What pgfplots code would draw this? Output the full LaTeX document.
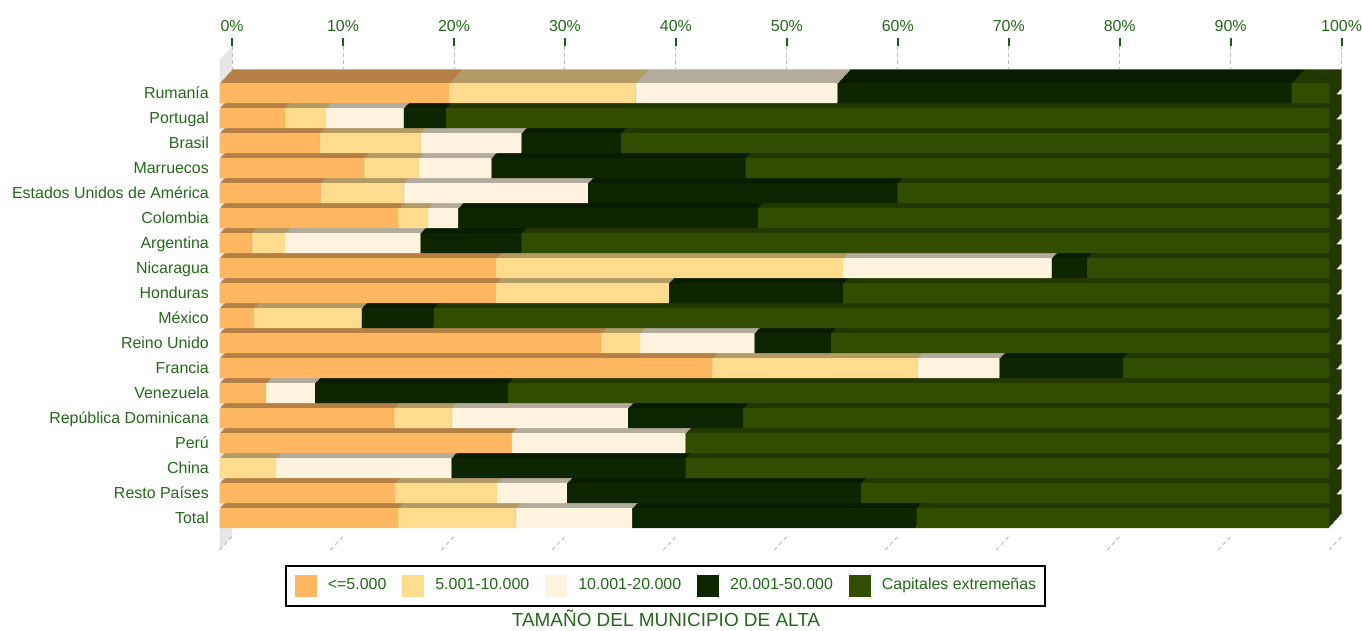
\documentclass[border=0pt]{standalone}
\usepackage{fontspec}
\setmainfont{Liberation Sans}
\usepackage{pgfplots}
\usepackage{pgfplotstable}
\pgfplotsset{compat=1.18}
\definecolor{txt}{RGB}{35,105,25}
\definecolor{tickg}{RGB}{20,95,20}
\definecolor{cA}{HTML}{FDB760}
\definecolor{cB}{HTML}{FEDC8E}
\definecolor{cC}{HTML}{FEF3DE}
\definecolor{cD}{HTML}{0D2600}
\definecolor{cE}{HTML}{334D00}
\definecolor{tA}{HTML}{B58046}
\definecolor{tB}{HTML}{B39B66}
\definecolor{tC}{HTML}{B3AB9C}
\definecolor{tD}{HTML}{0A1C00}
\definecolor{tE}{HTML}{223800}
\definecolor{wall}{HTML}{E6E6E6}
\definecolor{gridg}{HTML}{BDBDBD}

% columns: <=5.000, 5.001-10.000, 10.001-20.000, 20.001-50.000, Capitales extremenas
\pgfplotstableread{
a b c d e
20.7 16.8 18.2 40.9 3.4
5.9 3.7 7.0 3.8 79.6
9.0 9.1 9.1 9.0 63.8
13.0 5.0 6.5 22.9 52.6
9.1 7.5 16.6 27.9 38.9
16.1 2.7 2.7 27.0 51.5
2.9 3.0 12.2 9.1 72.8
24.9 31.3 18.8 3.2 21.8
24.9 15.6 0 15.7 43.8
3.1 9.7 0 6.5 80.7
34.4 3.5 10.3 6.9 44.9
44.4 18.5 7.4 11.1 18.6
4.2 0 4.4 17.4 74.0
15.7 5.2 15.9 10.4 52.8
26.3 0 15.7 0 58.0
0 5.1 15.8 21.1 58.0
15.8 9.2 6.3 26.5 42.2
16.1 10.6 10.5 25.6 37.2
}\datos

\pgfplotsset{
  barbase/.style={
    scale only axis, width=1109.5bp, height=450bp,
    xmin=0, xmax=100, ymin=-0.5, ymax=17.5, y dir=reverse,
    xbar stacked, bar width=20bp, clip=false, anchor=south west,
  },
}

\begin{document}
\begin{tikzpicture}
\useasboundingbox (0bp,0bp) rectangle (1362bp,631bp);
% left wall
\fill[wall] (219.5bp,571bp) -- (232.1bp,584.7bp) -- (232.1bp,94.5bp) -- (219.5bp,81bp) -- cycle;
% grid decorations and top percentage labels
\foreach \k in {0,...,10} {
  \pgfmathsetmacro\xf{219.5+110.95*\k}
  \pgfmathsetmacro\xb{\xf+12.6}
  \pgfmathtruncatemacro\pc{10*\k}
  \draw[gridg, line width=1bp, dash pattern=on 4bp off 3bp] (\xb bp,585bp) -- (\xb bp,562bp);
  \draw[gridg, line width=1bp, dash pattern=on 4bp off 3bp] (\xf bp,81bp) -- (\xb bp,94.5bp);
  \draw[tickg, line width=2bp] (\xb bp,593bp) -- (\xb bp,585bp);
  \node[anchor=base, inner sep=0pt, text=txt, font=\fontsize{16}{19}\selectfont] at (\xb bp,599.5bp) {\pc\%};
}
% 3D extrusion (top and side faces)
\foreach \k in {10,...,1} {
\begin{axis}[barbase, hide axis, at={(219.5bp+\k*1.26bp, 100.5bp+\k*1.37bp)}]
\addplot[fill=tA, draw=none] table[x=a, y expr=\coordindex] {\datos};
\addplot[fill=tB, draw=none] table[x=b, y expr=\coordindex] {\datos};
\addplot[fill=tC, draw=none] table[x=c, y expr=\coordindex] {\datos};
\addplot[fill=tD, draw=none] table[x=d, y expr=\coordindex] {\datos};
\addplot[fill=tE, draw=none] table[x=e, y expr=\coordindex] {\datos};
\end{axis}
}
% front faces
\begin{axis}[barbase, at={(219.5bp,100.5bp)},
  axis line style={draw=none}, xtick=\empty, ytick={0,...,17},
  yticklabels={Rumanía, Portugal, Brasil, Marruecos, Estados Unidos de América, Colombia, Argentina, Nicaragua, Honduras, México, Reino Unido, Francia, Venezuela, República Dominicana, Perú, China, Resto Países, Total},
  major tick length=0pt,
  yticklabel style={anchor=base east, inner sep=0pt, xshift=-10.5bp, yshift=-5.5bp, text=txt, font=\fontsize{16}{19}\selectfont},
  legend columns=5,
  legend image code/.code={\fill[#1] (0bp,-7.3bp) rectangle (22bp,14.7bp); \path (33bp,0bp);},
  legend style={at={(0.402,-0.1233)}, anchor=center, draw=black, line width=2bp,
    inner xsep=9bp, inner ysep=9bp, font=\fontsize{16}{19}\selectfont, text=txt,
    nodes={inner sep=0pt, anchor=base west},
    /tikz/every even column/.append style={column sep=16bp}},
]
\addplot[fill=cA, draw=none] table[x=a, y expr=\coordindex] {\datos};
\addlegendentry{<=5.000}
\addplot[fill=cB, draw=none] table[x=b, y expr=\coordindex] {\datos};
\addlegendentry{5.001-10.000}
\addplot[fill=cC, draw=none] table[x=c, y expr=\coordindex] {\datos};
\addlegendentry{10.001-20.000}
\addplot[fill=cD, draw=none] table[x=d, y expr=\coordindex] {\datos};
\addlegendentry{20.001-50.000}
\addplot[fill=cE, draw=none] table[x=e, y expr=\coordindex] {\datos};
\addlegendentry{Capitales extremeñas}
\end{axis}
\node[anchor=base, inner sep=0pt, text=txt, font=\fontsize{19}{22}\selectfont] at (666bp,4.5bp) {TAMAÑO DEL MUNICIPIO DE ALTA};
\end{tikzpicture}
\end{document}
